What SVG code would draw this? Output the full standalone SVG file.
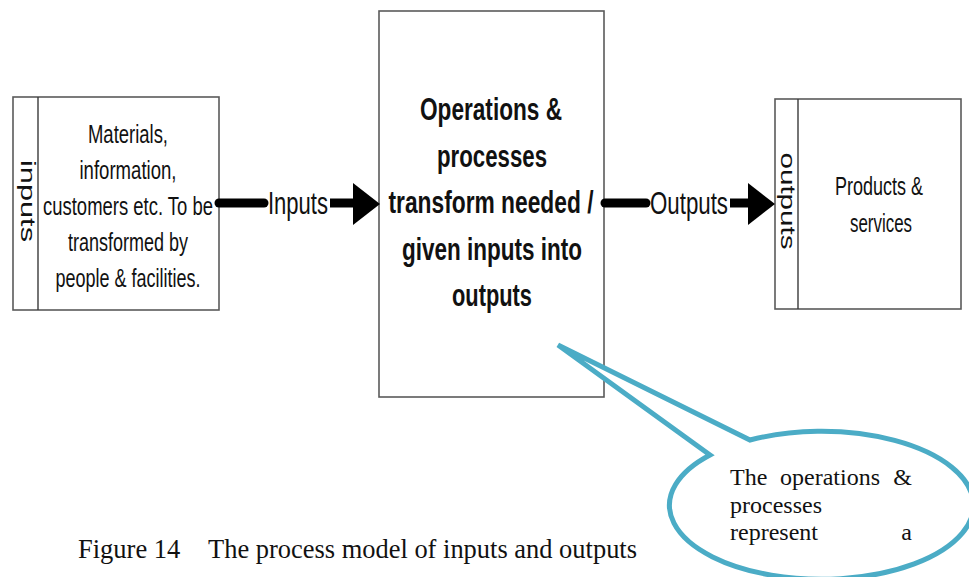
<svg xmlns="http://www.w3.org/2000/svg" width="969" height="577" viewBox="0 0 969 577">
  <style>
    .box { fill: #ffffff; stroke: #5a5a5a; stroke-width: 1.6; }
    .div { stroke: #3a3a3a; stroke-width: 1.4; }
    .sans { font-family: "Liberation Sans", Arial, sans-serif; fill: #111; }
    .body { font-size: 25px; text-anchor: middle; }
    .bold { font-size: 32px; font-weight: bold; text-anchor: middle; }
    .side { font-size: 20px; text-anchor: middle; }
    .lbl { font-size: 32px; }
    .serif { font-family: "Liberation Serif", "Times New Roman", serif; font-size: 24px; fill: #111; }
    .caption { font-family: "Liberation Serif", "Times New Roman", serif; font-size: 26.5px; fill: #111; }
    .shaft { stroke: #000; stroke-width: 9; stroke-linecap: round; }
    .head { fill: #000; }
    .callout { fill: #ffffff; stroke: #4bacc6; stroke-width: 5; stroke-linejoin: miter; }
  </style>

  <!-- input block -->
  <g id="inputs-node">
    <rect class="box" x="13" y="97" width="206" height="213"/>
    <line class="div" x1="38" y1="97" x2="38" y2="310"/>
    <text class="sans side" transform="translate(21,201) rotate(90)" textLength="82" lengthAdjust="spacingAndGlyphs">inputs</text>
    <text class="sans body" x="128" y="143" textLength="80" lengthAdjust="spacingAndGlyphs">Materials,</text>
    <text class="sans body" x="128" y="179" textLength="97" lengthAdjust="spacingAndGlyphs">information,</text>
    <text class="sans body" x="128" y="215" textLength="170" lengthAdjust="spacingAndGlyphs">customers etc. To be</text>
    <text class="sans body" x="128" y="251" textLength="120" lengthAdjust="spacingAndGlyphs">transformed by</text>
    <text class="sans body" x="128" y="287" textLength="145" lengthAdjust="spacingAndGlyphs">people &amp; facilities.</text>
  </g>

  <!-- transformation block -->
  <g id="process-node">
    <rect class="box" x="379" y="11" width="225" height="386"/>
    <text class="sans bold" x="491" y="120" textLength="142" lengthAdjust="spacingAndGlyphs">Operations &amp;</text>
    <text class="sans bold" x="492" y="166.5" textLength="110" lengthAdjust="spacingAndGlyphs">processes</text>
    <text class="sans bold" x="491" y="213" textLength="205" lengthAdjust="spacingAndGlyphs">transform needed /</text>
    <text class="sans bold" x="492" y="259.5" textLength="180" lengthAdjust="spacingAndGlyphs">given inputs into</text>
    <text class="sans bold" x="492" y="306" textLength="80" lengthAdjust="spacingAndGlyphs">outputs</text>
  </g>

  <!-- output block -->
  <g id="outputs-node">
    <rect class="box" x="775" y="99" width="186" height="210"/>
    <line class="div" x1="798" y1="99" x2="798" y2="309"/>
    <text class="sans side" transform="translate(781,201) rotate(90)" textLength="97" lengthAdjust="spacingAndGlyphs">outputs</text>
    <text class="sans body" x="879" y="195" textLength="88" lengthAdjust="spacingAndGlyphs">Products &amp;</text>
    <text class="sans body" x="881" y="232" textLength="62" lengthAdjust="spacingAndGlyphs">services</text>
  </g>

  <!-- flow connectors -->
  <g id="connectors">
    <line class="shaft" x1="219" y1="203" x2="264" y2="203"/>
    <text class="sans lbl" x="268" y="214" textLength="60" lengthAdjust="spacingAndGlyphs">Inputs</text>
    <line x1="330" y1="203" x2="356" y2="203" stroke="#000" stroke-width="9"/>
    <polygon class="head" points="353,183 380,204 353,225"/>

    <line class="shaft" x1="605" y1="203" x2="646" y2="203"/>
    <text class="sans lbl" x="650" y="214" textLength="78" lengthAdjust="spacingAndGlyphs">Outputs</text>
    <line x1="730" y1="203" x2="751" y2="203" stroke="#000" stroke-width="9"/>
    <polygon class="head" points="748,183 775,204 748,225"/>
  </g>

  <!-- caption -->
  <text class="caption" x="78" y="558">Figure 14</text>
  <text class="caption" x="208" y="558" textLength="429" lengthAdjust="spacingAndGlyphs">The process model of inputs and outputs</text>

  <!-- speech-bubble note -->
  <g id="note">
    <path class="callout" d="M710,455 L558,345 L750,440 A152,74 0 1 1 710,455 Z"/>
    <text class="serif" x="730" y="485">The</text>
    <text class="serif" x="780" y="485">operations</text>
    <text class="serif" x="912" y="485" text-anchor="end">&amp;</text>
    <text class="serif" x="730" y="512.5">processes</text>
    <text class="serif" x="730" y="540">represent</text>
    <text class="serif" x="912" y="540" text-anchor="end">a</text>
  </g>
</svg>
